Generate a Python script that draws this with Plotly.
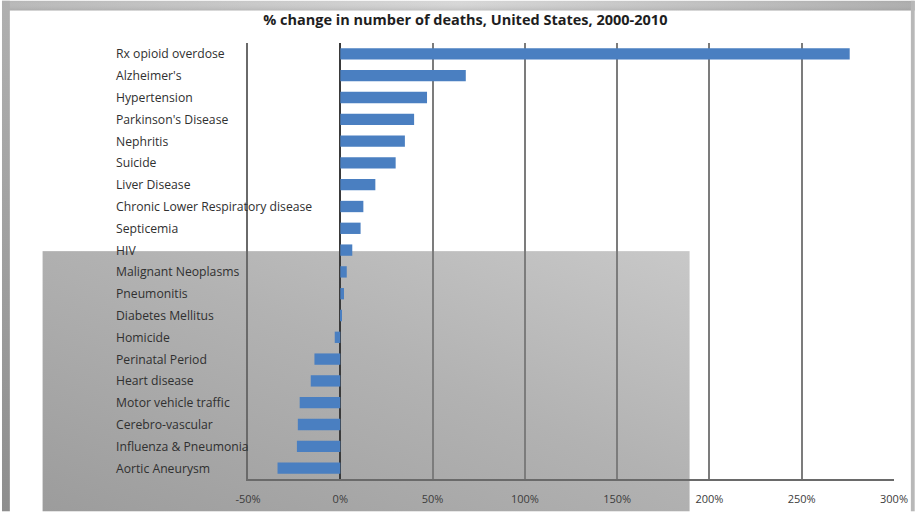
import base64
import plotly.graph_objects as go

# Causes of death, top to bottom, and percent change in deaths 2000-2010
causes = [
    "Rx opioid overdose", "Alzheimer's", "Hypertension", "Parkinson's Disease",
    "Nephritis", "Suicide", "Liver Disease", "Chronic Lower Respiratory disease",
    "Septicemia", "HIV", "Malignant Neoplasms", "Pneumonitis", "Diabetes Mellitus",
    "Homicide", "Perinatal Period", "Heart disease", "Motor vehicle traffic",
    "Cerebro-vascular", "Influenza & Pneumonia", "Aortic Aneurysm",
]
pct_change = [
    276, 68, 47, 40, 35, 30, 19, 12.5, 11, 6.5, 3.5, 2, 0.4,
    -3, -14, -16, -22, -23, -23.5, -34,
]

tick_values = [-50, 0, 50, 100, 150, 200, 250, 300]
tick_labels = ["-50%", "0%", "50%", "100%", "150%", "200%", "250%", "300%"]

title_text = "% change in number of deaths, United States, 2000-2010"

W, H = 920, 518
ML, MR, MT, MB = 248, 21, 43, 33
PW, PH = W - ML - MR, H - MT - MB

# Slide backdrop: grey frame edges and the shaded lower-left panel
svg = f"""<svg xmlns='http://www.w3.org/2000/svg' width='{W}' height='{H}' viewBox='0 0 {W} {H}'>
<defs>
<linearGradient id='top' x1='0' y1='0' x2='1' y2='0'>
<stop offset='0' stop-color='#b4b4b4'/><stop offset='0.5' stop-color='#d6d6d6'/><stop offset='1' stop-color='#a8a8a8'/>
</linearGradient>
<linearGradient id='topv' x1='0' y1='0' x2='0' y2='1'>
<stop offset='0' stop-color='#ffffff' stop-opacity='0'/><stop offset='1' stop-color='#9a9a9a' stop-opacity='0.35'/>
</linearGradient>
<linearGradient id='left' x1='0' y1='0' x2='0' y2='1'>
<stop offset='0' stop-color='#b0b0b0'/><stop offset='1' stop-color='#8e8e8e'/>
</linearGradient>
<linearGradient id='panel' x1='0' y1='1' x2='1' y2='0'>
<stop offset='0' stop-color='#9c9c9c'/><stop offset='0.55' stop-color='#b2b2b2'/><stop offset='1' stop-color='#c8c8c8'/>
</linearGradient>
</defs>
<rect x='0' y='0' width='{W}' height='{H}' fill='#ffffff'/>
<rect x='41' y='254' width='652' height='{H - 254}' fill='url(#panel)'/>
<rect x='0' y='0' width='{W}' height='10' fill='url(#top)'/>
<rect x='0' y='0' width='{W}' height='10' fill='url(#topv)'/>
<rect x='0' y='0' width='8' height='{H}' fill='url(#left)'/>
<rect x='{W - 4}' y='0' width='4' height='{H}' fill='#b8b8b8'/>
</svg>"""
svg_uri = "data:image/svg+xml;base64," + base64.b64encode(svg.encode()).decode()

fig = go.Figure()
fig.add_trace(go.Bar(
    y=causes,
    x=pct_change,
    orientation="h",
    marker=dict(color="#4a7fc1", line=dict(width=0)),
    hoverinfo="skip",
))

# Left-aligned category labels
label_x = (113 - ML) / PW
for c in causes:
    fig.add_annotation(
        x=label_x, xref="paper", y=c, yref="y",
        text=c, showarrow=False, xanchor="left", yanchor="middle",
        font=dict(family="Open Sans", size=12.2, color="#303030"),
    )

fig.update_layout(
    width=W, height=H,
    margin=dict(l=ML, r=MR, t=MT, b=MB, pad=0),
    paper_bgcolor="#ffffff",
    plot_bgcolor="rgba(0,0,0,0)",
    bargap=0.48,
    showlegend=False,
    title=dict(
        text=f"<b>{title_text}</b>",
        font=dict(family="Open Sans", size=14.5, color="#1e1e1e"),
        xref="paper", x=(467 - ML) / PW, xanchor="center",
        yref="container", y=1 - 20 / H, yanchor="middle",
    ),
    images=[dict(
        source=svg_uri, xref="paper", yref="paper",
        x=-ML / PW, y=1 + MT / PH, sizex=W / PW, sizey=H / PH,
        xanchor="left", yanchor="top", sizing="stretch", layer="below",
    )],
    xaxis=dict(
        range=[-50, 300],
        tickvals=tick_values, ticktext=tick_labels,
        showgrid=True, gridcolor="#7c7c7c", gridwidth=1.5,
        zeroline=True, zerolinecolor="#3a3a3a", zerolinewidth=1.5,
        showline=True, linecolor="#6a6a6a", linewidth=1.5,
        ticks="outside", ticklen=9, tickcolor="rgba(0,0,0,0)",
        tickfont=dict(family="Open Sans", size=11, color="#3c3c3c"),
        fixedrange=True,
    ),
    yaxis=dict(
        categoryorder="array", categoryarray=causes,
        autorange="reversed",
        showticklabels=False, showgrid=False, zeroline=False,
        showline=True, linecolor="#6a6a6a", linewidth=1.5,
        fixedrange=True,
    ),
)

fig.write_html("out.html")
